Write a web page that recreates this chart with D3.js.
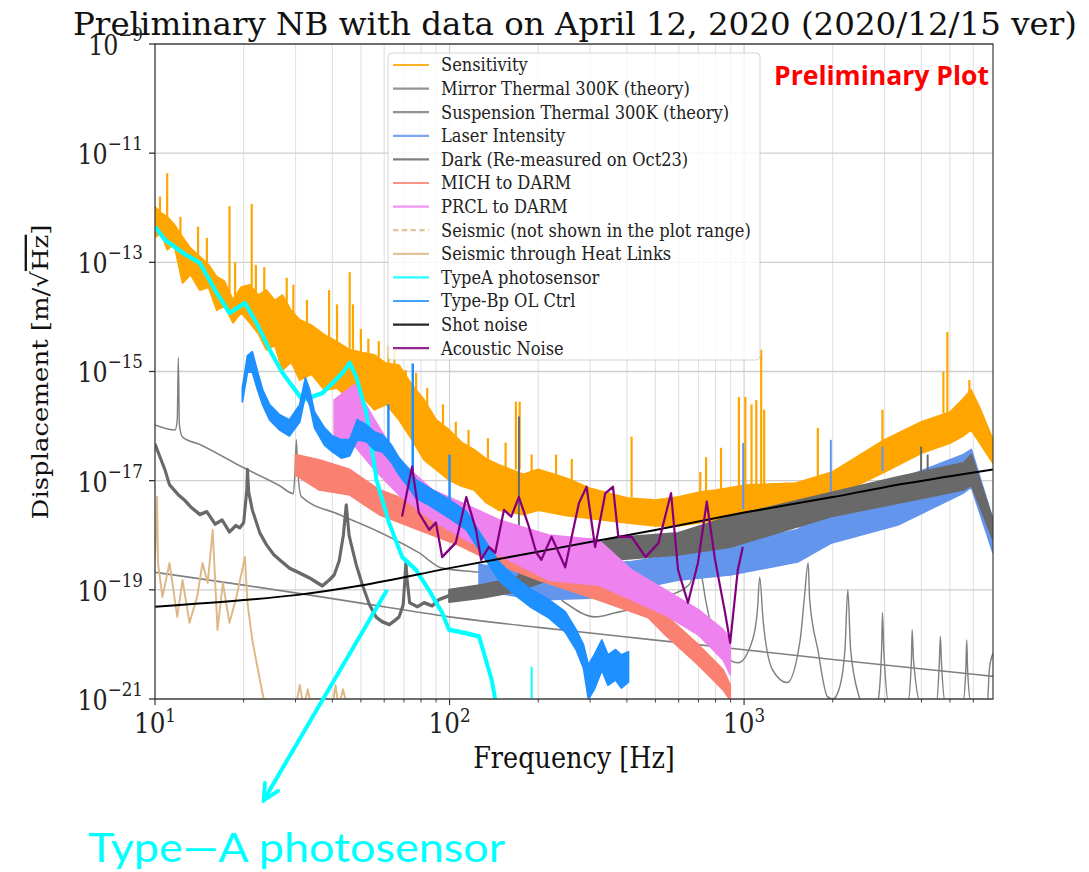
<!DOCTYPE html>
<html>
<head>
<meta charset="utf-8">
<script src="https://cdn.jsdelivr.net/npm/d3@7"></script>
<style>
  body { margin: 0; background: #fff; }
</style>
</head>
<body>
<div id="chart"></div>
<script>
// ---- axes ----
const freqRange = [10, 7000];
const dispRange = [1e-21, 1e-9];
const xTicks = [10, 100, 1000];
const xTickExp = ["1", "2", "3"];
const xMinorTicks = [20, 30, 40, 50, 60, 70, 80, 90, 200, 300, 400, 500, 600, 700, 800, 900, 2000, 3000, 4000, 5000, 6000];
const yTicks = [1e-21, 1e-19, 1e-17, 1e-15, 1e-13, 1e-11, 1e-9];
const yTickExp = ["\u221221", "\u221219", "\u221217", "\u221215", "\u221213", "\u221211", "\u22129"];

// ---- legend ----
const legendLabels = ["Sensitivity", "Mirror Thermal 300K (theory)", "Suspension Thermal 300K (theory)",
  "Laser Intensity", "Dark (Re-measured on Oct23)", "MICH to DARM", "PRCL to DARM",
  "Seismic (not shown in the plot range)", "Seismic through Heat Links", "TypeA photosensor",
  "Type-Bp OL Ctrl", "Shot noise", "Acoustic Noise"];
const legendColors = ["orange", "gray", "gray", "cornflowerblue", "dimgray", "salmon", "violet",
  "burlywood", "burlywood", "cyan", "dodgerblue", "black", "purple"];

// ---- series: bands are [freq, low, high], lines are [freq, value], spikes are [freq, base, top] ----
const sensitivityBand = [
  [10, 2.9e-13, 1.03e-12], [10.5, 3.5e-13, 8e-13], [11, 1.7e-13, 6.8e-13], [11.6, 2.2e-13, 5e-13],
  [12.4, 4.2e-14, 2.9e-13], [13.2, 6e-14, 1.8e-13], [14.2, 3.1e-14, 1.26e-13], [15.2, 3.5e-14, 9e-14],
  [16.2, 1.34e-14, 5.4e-14], [17.2, 1.6e-14, 4.5e-14], [18.4, 7.8e-15, 2.05e-14], [19.6, 1.2e-14, 3.5e-14],
  [21, 7.8e-15, 3.85e-14], [22.4, 5e-15, 2.5e-14], [23.9, 2.5e-15, 3.1e-14], [25.5, 3e-15, 2e-14],
  [27.1, 1.07e-15, 2.5e-14], [29, 1.5e-15, 1.3e-14], [31, 7e-16, 8.8e-15], [34, 9e-16, 7e-15],
  [37.6, 4.6e-16, 4.7e-15], [41.5, 5e-16, 3.5e-15], [45.8, 3.0e-16, 2.5e-15], [50.5, 3.5e-16, 2.2e-15],
  [55.6, 2.0e-16, 2.0e-15], [61, 2.5e-16, 1.4e-15], [67.4, 1.3e-16, 1.3e-15], [74, 6e-17, 6e-16],
  [82, 2.4e-17, 3.0e-16], [90, 1.6e-17, 1.3e-16], [99.6, 1.03e-17, 8.5e-17], [110, 8e-18, 5e-17],
  [121, 6.8e-18, 3.7e-17], [133, 4e-18, 2.5e-17], [147, 2.9e-18, 1.95e-17], [178, 2.4e-18, 1.3e-17],
  [200, 2.9e-18, 1.6e-17], [250, 2.3e-18, 1.1e-17], [300, 2.05e-18, 7.2e-18], [400, 1.7e-18, 4.8e-18],
  [500, 1.5e-18, 4.4e-18], [600, 1.5e-18, 5.0e-18], [700, 1.7e-18, 6.1e-18], [800, 1.9e-18, 6.7e-18],
  [1000, 2.3e-18, 8.2e-18], [1500, 3.1e-18, 9.0e-18], [2000, 5.0e-18, 1.45e-17], [3000, 1.45e-17, 5.6e-17],
  [4000, 3.2e-17, 1.19e-16], [5000, 4.9e-17, 1.8e-16], [5500, 6.5e-17, 3.0e-16], [5900, 8.5e-17, 4.6e-16],
  [6300, 5.0e-17, 2.2e-16], [7000, 2.1e-17, 5.6e-17]
];
const sensitivitySpikes = [
  [10.4, 8e-13, 1.6e-12], [11.0, 6e-13, 4.3e-12], [12.2, 3e-13, 6.8e-13], [14.0, 1.3e-13, 4.5e-13],
  [15.0, 8e-14, 2.8e-13], [17.9, 2e-14, 1.07e-12], [18.7, 2e-14, 1e-13], [21.3, 2e-14, 1.17e-12],
  [22.0, 2e-14, 9e-14], [23.5, 1e-14, 8.2e-14], [28.0, 5e-15, 5.2e-14], [29.5, 5e-15, 3.9e-14],
  [32.8, 4e-15, 2.05e-14], [39.0, 3e-15, 3.1e-14], [41.5, 3e-15, 1.7e-14], [45.8, 2.5e-15, 6.6e-14],
  [47.0, 2.5e-15, 1.7e-14], [50, 1e-15, 6e-15], [53, 8e-16, 4e-15], [57.5, 1.8e-15, 3.6e-15],
  [62, 5e-16, 3e-15], [65, 4e-16, 2.5e-15], [71, 1.2e-16, 1.07e-15], [77, 1.5e-16, 9.4e-16],
  [84, 1e-16, 5e-16], [87, 3e-17, 1.75e-16], [95, 5e-17, 2.5e-16], [105, 3e-17, 1.2e-16],
  [116, 2e-17, 8.5e-17], [135, 1.5e-17, 6e-17], [155, 1.3e-17, 5e-17], [168, 1.6e-17, 2.8e-16],
  [173, 1.6e-17, 2.8e-16], [190, 1.5e-17, 3e-17], [230, 1e-17, 3e-17], [260, 8e-18, 2.5e-17],
  [415, 5e-18, 6.4e-17], [710, 6e-18, 1.45e-17], [743, 6e-18, 2.7e-17], [835, 6.5e-18, 4e-17],
  [960, 8e-18, 3.4e-16], [1010, 8e-18, 3.4e-16], [1060, 8e-18, 2.5e-16], [1100, 8e-18, 3e-16],
  [1143, 8e-18, 2.5e-15], [1170, 8e-18, 2e-16], [1780, 1e-17, 9.3e-17], [2950, 5e-17, 2e-16],
  [4750, 1.7e-16, 1e-15], [4900, 1.7e-16, 5.3e-15], [5820, 3.5e-16, 7e-16]
];
const mirrorThermal = [
  [10, 2.1e-19], [20, 1.22e-19], [30, 8.8e-20], [50, 5.7e-20], [100, 3.2e-20], [200, 2.05e-20],
  [500, 1.2e-20], [1000, 8e-21], [2000, 5.3e-21], [3000, 4.2e-21], [7000, 2.6e-21]
];
const suspensionThermal = [
  [10, 1.05e-16], [11.7, 8.5e-17], [11.9, 1.3e-16], [12.0, 1.8e-15], [12.1, 1.05e-16], [12.4, 6.3e-17],
  [14.2, 4.6e-17], [19.4, 1.87e-17], [26.5, 8.1e-18], [29.5, 5.8e-18], [29.9, 1.6e-17], [30.2, 5.6e-17],
  [30.5, 1.6e-17], [31.4, 5.1e-18], [42.2, 2.4e-18], [57.7, 1.15e-18], [78.6, 4.8e-19], [94.4, 2.5e-19],
  [126, 2.1e-19], [172, 1.66e-19], [205, 1.34e-19], [247, 5.8e-20], [312, 3.2e-20], [366, 3.8e-20],
  [441, 4.9e-20], [540, 7.4e-20], [650, 1.23e-19], [690, 2.3e-19], [715, 1.88e-19], [740, 6.6e-20],
  [800, 1.2e-20], [955, 4.6e-21], [1068, 1.2e-20], [1110, 4.3e-20], [1130, 1.7e-19], [1160, 2.8e-20],
  [1250, 3.4e-21], [1400, 2e-21], [1550, 1.2e-20], [1600, 6.6e-20], [1650, 3.1e-19], [1670, 6.6e-20],
  [1780, 8e-21], [1920, 1.1e-21], [2000, 1e-21], [2100, 1.5e-21], [2200, 8e-21], [2250, 1e-19],
  [2300, 8e-21], [2470, 1e-21], [2640, 4e-22], [2850, 9.5e-22], [2930, 8e-21], [2950, 3.8e-20],
  [2980, 8e-21], [3110, 8e-22], [3600, 9e-22], [3700, 5.2e-21], [3720, 1.85e-20], [3760, 5.2e-21],
  [3990, 8e-22], [4500, 8.5e-22], [4600, 4.5e-21], [4640, 1.4e-20], [4680, 4.5e-21], [4830, 8.5e-22],
  [5530, 8.5e-22], [5660, 3.4e-21], [5700, 1.2e-20], [5740, 3.4e-21], [5890, 8.5e-22], [6700, 8.5e-22],
  [6800, 3.4e-21], [7000, 6.9e-21]
];
const laserBand = [
  [126, 1e-19, 2.9e-19], [200, 6.6e-20, 1.88e-19], [298, 7.1e-20, 2.9e-19], [415, 1e-19, 3.26e-19],
  [597, 1.52e-19, 4.4e-19], [897, 1.88e-19, 6.7e-19], [1520, 3.26e-19, 1.26e-18], [1970, 7.2e-19, 3.6e-18],
  [3330, 1.55e-18, 1.03e-17], [5560, 6e-18, 3.0e-17], [5910, 7.7e-18, 3.7e-17], [7000, 4.8e-19, 1.9e-18]
];
const laserSpikes = [[993, 3e-18, 4.9e-17], [1970, 6e-18, 5.6e-17], [2950, 1.5e-17, 4.2e-17]];
const darkLow = [
  [10, 4.7e-17], [10.4, 2.7e-17], [10.8, 1.6e-17], [11.2, 8.4e-18], [12, 5.5e-18], [12.6, 4.4e-18],
  [13.3, 3.2e-18], [14.2, 2.4e-18], [15, 2.7e-18], [16, 1.6e-18], [16.9, 1.9e-18], [17.9, 1.15e-18],
  [18.8, 1.5e-18], [19.4, 1.37e-18], [20, 1.7e-18], [20.5, 6.8e-18], [20.6, 1.6e-17], [20.8, 6.2e-18],
  [21.4, 2.9e-18], [22.7, 1.1e-18], [23.9, 6.7e-19], [25.3, 4.4e-19], [26.5, 3.55e-19], [28.6, 2.5e-19],
  [30.9, 2.05e-19], [33.4, 1.66e-19], [35.6, 1.34e-19], [37, 1.18e-19], [39.1, 1.52e-19], [40.6, 1.88e-19],
  [42.2, 3.4e-19], [43.6, 1e-18], [44.6, 3.6e-18], [45.6, 1e-18], [46.4, 6.7e-19], [48.2, 2.9e-19],
  [50.6, 1.23e-19], [53.5, 5.3e-20], [56.5, 3.1e-20], [59.1, 2.6e-20], [62.5, 2.3e-20], [65.5, 2.8e-20],
  [67.4, 3.2e-20], [69.6, 5.3e-20], [70.7, 1.88e-19], [71.1, 3.1e-19], [71.8, 1.52e-19], [73.2, 5.8e-20],
  [77.7, 4.9e-20], [82, 5.8e-20], [87.3, 5.1e-20], [92, 6.6e-20], [99.6, 7.8e-20]
];
const darkBand = [
  [99.6, 6.0e-20, 1.0e-19], [128, 7.1e-20, 1.23e-19], [167, 9.2e-20, 1.66e-19], [217, 1.52e-19, 3.26e-19],
  [275, 2.3e-19, 5.4e-19], [366, 3.55e-19, 9.0e-19], [597, 4.4e-19, 1.1e-18], [897, 6.1e-19, 2.2e-18],
  [1970, 2.2e-18, 6.0e-18], [3330, 3.9e-18, 1.17e-17], [5560, 6.8e-18, 2.1e-17], [5910, 8.4e-18, 3.0e-17],
  [7000, 8.2e-19, 1.9e-18]
];
const darkSpikes = [[172, 1.3e-19, 1.5e-16], [3990, 1.3e-17, 4.2e-17], [4200, 1.3e-17, 3e-17]];
const michBand = [
  [30, 1.28e-17, 3.0e-17], [36.1, 6.8e-18, 2.4e-17], [45.8, 5.5e-18, 1.6e-17], [57.7, 2.4e-18, 6.8e-18],
  [78.6, 1.26e-18, 3.6e-18], [107, 6.7e-19, 1.9e-18], [147, 2.9e-19, 8.2e-19], [200, 1.52e-19, 3.55e-19],
  [320, 6.6e-20, 1.52e-19], [473, 3.1e-20, 6.6e-20], [540, 1.5e-20, 3.5e-20], [700, 4.2e-21, 9.8e-21],
  [850, 1.46e-21, 3.4e-21], [897, 9.7e-22, 1.8e-21]
];
const prclBand = [
  [40.6, 6.9e-17, 3.0e-16], [47.5, 4.5e-17, 5.7e-16], [55.6, 1.6e-17, 1.3e-16], [67.4, 5.5e-18, 2.4e-17],
  [87.3, 1.9e-18, 6.8e-18], [114, 8.2e-19, 3.6e-18], [147, 4.4e-19, 1.9e-18], [217, 1.52e-19, 1.0e-18],
  [320, 1.23e-19, 8.2e-19], [415, 6.6e-20, 2.3e-19], [540, 3.5e-20, 1e-19], [700, 1.5e-20, 4.3e-20],
  [850, 5.2e-21, 1.85e-20], [897, 2.8e-21, 1.2e-20]
];
const heatLinks = [
  [10, 3.5e-19], [10.16, 5.0e-18], [10.24, 3.1e-19], [10.6, 7.4e-20], [11.2, 3.1e-19], [11.9, 3.2e-20],
  [12.4, 1.5e-19], [13.1, 2.5e-20], [13.9, 7.4e-20], [14.5, 3.1e-19], [15.1, 1.34e-19], [15.7, 1.26e-18],
  [16.3, 1.85e-20], [17.0, 1.34e-19], [17.9, 2.5e-20], [18.9, 7.4e-20], [20.2, 4.0e-19], [20.6, 5.8e-20],
  [21.4, 1.2e-20], [22.7, 2.25e-21], [23.6, 7.8e-22], [30, 7e-22], [31, 1.8e-21], [32, 7e-22],
  [33, 1.5e-21], [34, 7e-22], [40, 7e-22], [41, 1.8e-21], [42, 7e-22], [43.5, 1.5e-21], [45, 7e-22]
];
const typeA = [
  [10, 4.5e-13], [10.8, 2.6e-13], [12.4, 1.5e-13], [14.2, 9.7e-14], [16.2, 2.75e-14], [17.9, 1.18e-14],
  [20.2, 1.8e-14], [22.1, 7.8e-15], [24.5, 2.5e-15], [27.1, 9.4e-16], [31.7, 3.0e-16], [37.0, 4.0e-16],
  [43.3, 9.4e-16], [45.8, 1.44e-15], [48.2, 8e-16], [52.2, 1.75e-16], [56.5, 1.03e-17], [62.3, 1.7e-18],
  [69, 4.0e-19], [77, 2.3e-19], [85, 1e-19], [94.4, 3.8e-20], [99.6, 1.85e-20], [114, 1.6e-20],
  [126, 1.4e-20], [139, 2.25e-21], [143, 9.7e-22]
];
const typeASpikes = [[190, 8e-22, 3.9e-21]];
const typeBpBand = [
  [19.8, 2.8e-16, 5.0e-16], [20.6, 9.8e-16, 1.93e-15], [21.4, 9.8e-16, 2.3e-15], [22.3, 4.6e-16, 9.8e-16],
  [23.2, 2.45e-16, 4.6e-16], [24.5, 1.3e-16, 2.45e-16], [26.5, 8.5e-17, 1.6e-16], [28.6, 6.6e-17, 1.3e-16],
  [31, 1.19e-16, 2.45e-16], [32.4, 3.7e-16, 7.6e-16], [33.5, 2.45e-16, 4.6e-16], [34.8, 9.3e-17, 1.8e-16],
  [37.6, 4.5e-17, 9.3e-17], [40, 3.4e-17, 6.6e-17], [42.9, 2.6e-17, 5.6e-17], [45.8, 2.85e-17, 5.6e-17],
  [48.6, 5.6e-17, 1.3e-16], [52.2, 5.2e-17, 1.05e-16], [55.6, 3.7e-17, 7.8e-17], [59.1, 3.4e-17, 6.9e-17],
  [63.4, 2.2e-17, 4.5e-17], [67.4, 1.28e-17, 2.6e-17], [72.9, 7.4e-18, 1.6e-17], [77, 4.8e-18, 1.03e-17],
  [85, 3.6e-18, 7.4e-18], [99.6, 2.1e-18, 4.5e-18], [114, 1.26e-18, 2.7e-18], [128, 4.8e-19, 1.02e-18],
  [147, 1.52e-19, 3.26e-19], [167, 8.1e-20, 1.66e-19], [190, 4.7e-20, 1e-19], [217, 3.1e-20, 6.6e-20],
  [247, 1.7e-20, 3.95e-20], [269, 8e-21, 1.85e-20], [285, 3.7e-21, 9.8e-21], [296, 1e-21, 4.2e-21],
  [310, 1.5e-21, 6.4e-21], [329, 3.4e-21, 1.2e-20], [345, 1.8e-21, 6.4e-21], [366, 2.25e-21, 8e-21],
  [383, 1.6e-21, 6.4e-21], [405, 2.05e-21, 7.3e-21]
];
const typeBpSpikes = [[62, 3e-17, 2.5e-16], [75, 1.5e-17, 1.4e-15], [100, 3e-18, 3e-17]];
const shotNoise = [
  [10, 4.9e-20], [20, 6.5e-20], [30, 8e-20], [50, 1.2e-19], [100, 2.5e-19], [200, 5e-19], [300, 7.5e-19],
  [500, 1.25e-18], [1000, 2.6e-18], [2000, 5e-18], [3000, 7.6e-18], [5000, 1.2e-17], [7000, 1.6e-17]
];
const acoustic = [
  [69, 2.2e-18], [74.6, 1.8e-17], [78.6, 2.6e-18], [85.3, 1.26e-18], [89.9, 1.7e-18], [94.4, 4.0e-19],
  [105, 7.3e-19], [114, 5.0e-18], [123, 1.26e-18], [128, 3.55e-19], [136, 6.1e-19], [143, 4.8e-19],
  [153, 2.9e-18], [162, 2.2e-18], [172, 5.0e-18], [186, 1.43e-18], [197, 4.8e-19], [205, 3.55e-19],
  [222, 9.4e-19], [247, 2.6e-19], [275, 3.9e-18], [292, 7.7e-18], [312, 6.1e-19], [338, 5.9e-18],
  [359, 7.7e-18], [374, 9.4e-19], [415, 9.4e-19], [463, 4.0e-19], [512, 7.2e-19], [565, 5.9e-18],
  [597, 2.3e-19], [645, 5.8e-20], [697, 3.1e-19], [747, 4.1e-18], [797, 3.55e-19], [862, 3.8e-20],
  [897, 1.07e-20], [952, 2.3e-19], [990, 6.1e-19]
];

// annotation arrow (start point on the plot, tip below the axes)
const arrowFrom = [61.4, 1e-19];
const arrowTo = [23.4, 1.4e-23];

// ---- layout ----
const W = 1089, H = 872;
const sx = 0.88;   // the figure is squeezed horizontally
const margin = {left: 155, right: 993, top: 44, bottom: 699};

const svg = d3.select("#chart").append("svg")
    .attr("width", W)
    .attr("height", H)
    .style("background", "#fff");

const fig = svg.append("g").attr("transform", `scale(${sx},1)`);

const x = d3.scaleLog().domain(freqRange).range([margin.left / sx, margin.right / sx]);
const y = d3.scaleLog().domain(dispRange).range([margin.bottom, margin.top]);
const xr = d3.scaleLog().domain(freqRange).range([margin.left, margin.right]);

const serif = "'DejaVu Serif', serif";

// grid
const grid = fig.append("g");
grid.selectAll(".gx").data(xMinorTicks.concat(xTicks)).join("line")
    .attr("x1", d => x(d)).attr("x2", d => x(d))
    .attr("y1", margin.top).attr("y2", margin.bottom)
    .attr("stroke", d => xTicks.includes(d) ? "#cfcfcf" : "#e2e2e2")
    .attr("stroke-width", 1.3);
grid.selectAll(".gy").data(yTicks).join("line")
    .attr("x1", x(freqRange[0])).attr("x2", x(freqRange[1]))
    .attr("y1", d => y(d)).attr("y2", d => y(d))
    .attr("stroke", "#cfcfcf")
    .attr("stroke-width", 1.3);

// clip
fig.append("defs").append("clipPath").attr("id", "clip")
    .append("rect")
    .attr("x", x(freqRange[0])).attr("y", margin.top)
    .attr("width", x(freqRange[1]) - x(freqRange[0]))
    .attr("height", margin.bottom - margin.top);

const plot = fig.append("g").attr("clip-path", "url(#clip)");

function drawBand(data, color, sw) {
    const area = d3.area()
        .x(d => x(d[0]))
        .y0(d => y(d[1]))
        .y1(d => y(d[2]));
    plot.append("path").datum(data)
        .attr("d", area)
        .attr("fill", color)
        .attr("stroke", color)
        .attr("stroke-width", sw)
        .attr("stroke-linejoin", "round");
}

function drawSpikes(data, color, sw) {
    plot.append("g").selectAll("line").data(data).join("line")
        .attr("x1", d => x(d[0])).attr("x2", d => x(d[0]))
        .attr("y1", d => y(d[1])).attr("y2", d => y(d[2]))
        .attr("stroke", color)
        .attr("stroke-width", sw / sx);
}

function drawLine(data, color, sw, curve) {
    const line = d3.line()
        .x(d => x(d[0]))
        .y(d => y(d[1]))
        .curve(curve || d3.curveLinear);
    plot.append("path").datum(data)
        .attr("d", line)
        .attr("fill", "none")
        .attr("stroke", color)
        .attr("stroke-width", sw)
        .attr("stroke-linejoin", "round");
}

drawBand(sensitivityBand, "orange", 2);
drawSpikes(sensitivitySpikes, "orange", 2.2);
drawLine(mirrorThermal, "gray", 1.6, d3.curveMonotoneX);
drawLine(suspensionThermal, "gray", 1.6, d3.curveMonotoneX);
drawBand(laserBand, "cornflowerblue", 2);
drawSpikes(laserSpikes, "cornflowerblue", 2);
drawLine(darkLow, "dimgray", 3.5);
drawBand(darkBand, "dimgray", 2);
drawSpikes(darkSpikes, "dimgray", 2);
drawBand(michBand, "salmon", 2);
drawBand(prclBand, "violet", 2);
drawLine(heatLinks, "burlywood", 2.2);
drawLine(typeA, "cyan", 4.5);
drawSpikes(typeASpikes, "cyan", 2);
drawBand(typeBpBand, "dodgerblue", 2);
drawSpikes(typeBpSpikes, "dodgerblue", 2.5);
drawLine(shotNoise, "black", 2, d3.curveMonotoneX);
drawLine(acoustic, "purple", 2.5);

// frame
fig.append("rect")
    .attr("x", x(freqRange[0])).attr("y", margin.top)
    .attr("width", x(freqRange[1]) - x(freqRange[0]))
    .attr("height", margin.bottom - margin.top)
    .attr("fill", "none")
    .attr("stroke", "#333")
    .attr("stroke-width", 1.3);

// x ticks
const xAxisG = fig.append("g");
xAxisG.selectAll(".tmaj").data(xTicks).join("line")
    .attr("x1", d => x(d)).attr("x2", d => x(d))
    .attr("y1", margin.bottom).attr("y2", margin.bottom + 6)
    .attr("stroke", "#333").attr("stroke-width", 1.3);
xAxisG.selectAll(".tmin").data(xMinorTicks).join("line")
    .attr("x1", d => x(d)).attr("x2", d => x(d))
    .attr("y1", margin.bottom).attr("y2", margin.bottom + 3.5)
    .attr("stroke", "#333").attr("stroke-width", 1);
xAxisG.selectAll("text").data(xTicks).join("text")
    .attr("x", d => x(d))
    .attr("y", 733)
    .attr("text-anchor", "middle")
    .attr("font-family", serif)
    .attr("fill", "#222")
    .each(function (d, i) {
        const t = d3.select(this);
        t.append("tspan").attr("font-size", 28).text("10");
        t.append("tspan").attr("font-size", 19).attr("dy", -11).text(xTickExp[i]);
    });

// y ticks
const yAxisG = fig.append("g");
yAxisG.selectAll("line").data(yTicks).join("line")
    .attr("x1", x(freqRange[0]) - 6 / sx).attr("x2", x(freqRange[0]))
    .attr("y1", d => y(d)).attr("y2", d => y(d))
    .attr("stroke", "#333").attr("stroke-width", 1.3);
yAxisG.selectAll("text").data(yTicks).join("text")
    .attr("x", x(freqRange[0]) - 12 / sx)
    .attr("y", d => y(d) + 11)
    .attr("text-anchor", "end")
    .attr("font-family", serif)
    .attr("fill", "#222")
    .each(function (d, i) {
        const t = d3.select(this);
        t.append("tspan").attr("font-size", 27).text("10");
        t.append("tspan").attr("font-size", 19).attr("dy", -14).text(yTickExp[i]);
    });

// title and axis labels
fig.append("text")
    .attr("x", 73 / sx).attr("y", 35)
    .attr("font-family", serif).attr("font-size", 31).attr("fill", "#111")
    .attr("textLength", 1004 / sx).attr("lengthAdjust", "spacingAndGlyphs")
    .text("Preliminary NB with data on April 12, 2020 (2020/12/15 ver)");

fig.append("text")
    .attr("x", 574 / sx).attr("y", 768)
    .attr("text-anchor", "middle")
    .attr("font-family", serif).attr("font-size", 29).attr("fill", "#111")
    .text("Frequency [Hz]");

const yLabel = fig.append("text")
    .attr("transform", `translate(${48 / sx},372) rotate(-90)`)
    .attr("text-anchor", "middle")
    .attr("font-family", serif).attr("font-size", 26).attr("fill", "#111");
yLabel.append("tspan").text("Displacement [m/\u221A");
yLabel.append("tspan").style("text-decoration", "overline").text("Hz");
yLabel.append("tspan").text("]");

// legend
const legend = fig.append("g").attr("transform", `translate(${388 / sx},53)`);
legend.append("rect")
    .attr("width", 372 / sx).attr("height", 307)
    .attr("rx", 4).attr("ry", 4)
    .attr("fill", "#fff").attr("fill-opacity", 0.8)
    .attr("stroke", "#d0d0d0").attr("stroke-width", 1);
const rows = legend.selectAll(".row").data(legendLabels).join("g")
    .attr("transform", (d, i) => `translate(0,${12 + i * 23.6})`);
rows.append("line")
    .attr("x1", 5 / sx).attr("x2", 41 / sx)
    .attr("stroke", (d, i) => legendColors[i])
    .attr("stroke-width", 2.2)
    .attr("stroke-opacity", 0.85)
    .attr("stroke-dasharray", (d, i) => i === 7 ? "6,4" : null);
rows.append("text")
    .attr("x", 53 / sx).attr("dy", "0.35em")
    .attr("font-family", serif).attr("font-size", 18.5).attr("fill", "#222")
    .text(d => d);

// slide overlays (not squeezed)
svg.append("text")
    .attr("x", 774).attr("y", 85)
    .attr("font-family", "'Open Sans', sans-serif").attr("font-weight", 700)
    .attr("font-size", 27).attr("fill", "#f00")
    .attr("textLength", 215).attr("lengthAdjust", "spacingAndGlyphs")
    .text("Preliminary Plot");

svg.append("defs").append("marker")
    .attr("id", "arrowhead")
    .attr("markerUnits", "userSpaceOnUse")
    .attr("viewBox", "0 0 20 20")
    .attr("refX", 17).attr("refY", 10)
    .attr("markerWidth", 22).attr("markerHeight", 22)
    .attr("orient", "auto")
    .append("path")
    .attr("d", "M3,3 L17,10 L3,17")
    .attr("fill", "none").attr("stroke", "cyan").attr("stroke-width", 3.5)
    .attr("stroke-linecap", "round");

svg.append("line")
    .attr("x1", xr(arrowFrom[0])).attr("y1", y(arrowFrom[1]))
    .attr("x2", xr(arrowTo[0])).attr("y2", y(arrowTo[1]))
    .attr("stroke", "cyan").attr("stroke-width", 4)
    .attr("marker-end", "url(#arrowhead)");

svg.append("text")
    .attr("x", 88).attr("y", 862)
    .attr("font-family", "Lato, 'Open Sans', sans-serif")
    .attr("font-size", 40).attr("fill", "cyan")
    .attr("textLength", 417).attr("lengthAdjust", "spacingAndGlyphs")
    .text("Type\u2014A photosensor");
</script>
</body>
</html>
